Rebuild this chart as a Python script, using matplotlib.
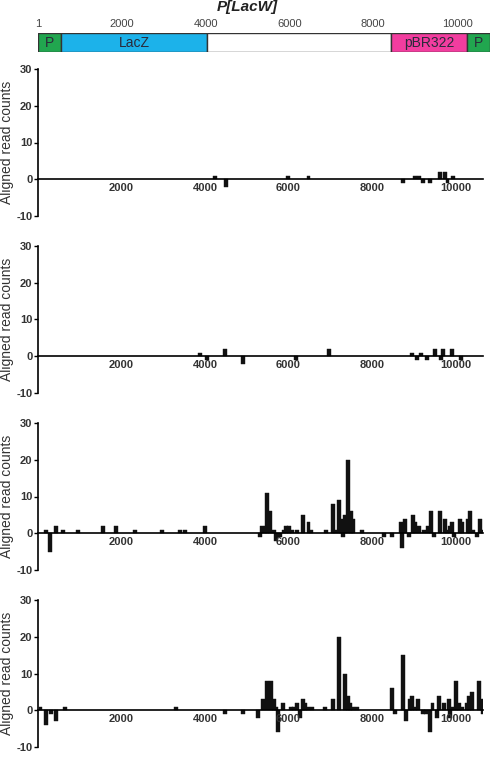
import matplotlib
matplotlib.use("Agg")
import matplotlib.pyplot as plt
from matplotlib.patches import Rectangle

plt.rcParams['font.family'] = ['Liberation Sans', 'DejaVu Sans']

# ---- data ----
map_title = "P[LacW]"
map_ticks = [1, 2000, 4000, 6000, 8000, 10000]
seg_names = ["P", "LacZ", "", "pBR322", "P"]
seg_starts = [1, 550, 4030, 8430, 10240]
seg_ends = [550, 4030, 8430, 10240, 10787]
seg_colors = ["#21a64f", "#1cb2ea", "#ffffff", "#f23d9f", "#21a64f"]

x_ticks = [2000, 4000, 6000, 8000, 10000]
y_ticks = [-10, 0, 10, 20, 30]

pos1 = [4230, 4500, 6000, 6480, 8740, 9040, 9120, 9220, 9400, 9620, 9740, 9810, 9950]
val1 = [1, -2, 1, 1, -1, 1, 1, -1, -1, 2, 2, -1, 1]

pos2 = [3880, 4050, 4490, 4900, 6190, 6980, 8950, 9080, 9170, 9330, 9500, 9660, 9700, 9920, 10130]
val2 = [1, -1, 2, -2, -1, 2, 1, -1, 1, -1, 2, -1, 2, 2, -1]

pos3 = [200, 280, 420, 600, 950, 1560, 1880, 2330, 2960, 3400, 3530, 3990,
        5320, 5370, 5450, 5490, 5550, 5650, 5700, 5800, 5890, 5950, 6010, 6090, 6200,
        6350, 6480, 6540, 6890, 7060, 7120, 7220, 7260, 7300, 7350, 7430, 7490, 7550,
        7750, 8280, 8480, 8700, 8730, 8780, 8890, 8975, 9040, 9120, 9240, 9340, 9420,
        9480, 9640, 9740, 9800, 9880, 9925, 9970, 10100, 10165, 10300, 10345, 10420,
        10520, 10580, 10650]
val3 = [1, -5, 2, 1, 1, 2, 2, 1, 1, 1, 1, 2,
        -1, 2, 2, 11, 6, 1, -2, -1, 1, 2, 2, 1, 1,
        5, 3, 1, 1, 8, 1, 9, 4, -1, 5, 20, 6, 4,
        1, -1, -1, 3, -4, 4, -1, 5, 3, 2, 1, 2, 6,
        -1, 6, 4, 1, 2, 3, -1, 4, 3, 4, 6, 1,
        -1, 4, 1]

pos4 = [60, 200, 300, 440, 640, 3315, 4490, 4900, 5260, 5380, 5490, 5580, 5650,
        5710, 5750, 5870, 6060, 6125, 6200, 6280, 6350, 6405, 6460, 6565, 6870,
        7065, 7210, 7345, 7420, 7480, 7550, 7640, 8480, 8545, 8745, 8815, 8920,
        8970, 9020, 9100, 9220, 9300, 9400, 9450, 9555, 9615, 9735, 9835, 9880,
        9925, 10015, 10075, 10155, 10275, 10330, 10395, 10570, 10630, 10665]
val4 = [1, -4, -1, -3, 1, 1, -1, -1, -2, 3, 8, 8, 3,
        1, -6, 2, 1, 1, 2, -2, 3, 2, 1, 1, 1,
        3, 20, 10, 4, 2, 1, 1, 6, -1, 15, -3, 3,
        4, 1, 3, -1, -1, -6, 2, -2, 4, 2, 3, -2,
        1, 8, 2, 1, 2, 4, 5, 8, 3, -1]

panels = [(pos1, val1), (pos2, val2), (pos3, val3), (pos4, val4)]

# ---- figure ----
W, H = 494, 757
fig = plt.figure(figsize=(W / 100, H / 100), dpi=100)

def px_axes(x0, y0, x1, y1):
    return fig.add_axes([x0 / W, 1 - y1 / H, (x1 - x0) / W, (y1 - y0) / H])

# gene map
axm = px_axes(38, 33, 490, 52)
axm.set_xlim(seg_starts[0], seg_ends[-1])
axm.set_ylim(0, 1)
for s, e, c, n in zip(seg_starts, seg_ends, seg_colors, seg_names):
    axm.add_patch(Rectangle((s, 0), e - s, 1, facecolor=c, edgecolor="#333333", lw=1.0))
    if n:
        axm.text((s + e) / 2, 0.45, n, ha="center", va="center", fontsize=10, color="#2a2a3a")
for sp in axm.spines.values():
    sp.set_visible(False)
axm.set_yticks([])
axm.xaxis.set_ticks_position("top")
axm.set_xticks(map_ticks)
axm.set_xticklabels([str(t) for t in map_ticks], fontsize=8, color="#444444")
axm.tick_params(axis="x", length=0, pad=3)
axm.text(0.5, (H - 7) / H, map_title, transform=fig.transFigure, ha="center", va="center",
         fontsize=11, fontweight="bold", fontstyle="italic", color="#222222")

# panels
tops = [69, 246, 423, 600]
for (pos, val), top in zip(panels, tops):
    ax = px_axes(38, top, 483, top + 147)
    ax.set_xlim(0, 10660)
    ax.set_ylim(-10, 30)
    ax.bar(pos, val, width=95, color="#111111", edgecolor="#111111", linewidth=0.3)
    ax.spines["top"].set_visible(False)
    ax.spines["right"].set_visible(False)
    ax.spines["bottom"].set_position(("data", 0))
    ax.spines["left"].set_linewidth(1.2)
    ax.spines["bottom"].set_linewidth(1.2)
    ax.set_yticks(y_ticks)
    ax.set_yticklabels([str(t) for t in y_ticks], fontsize=8, fontweight="bold", color="#333333")
    ax.tick_params(axis="y", length=3, width=1.0, pad=1)
    ax.set_xticks(x_ticks)
    ax.set_xticklabels([str(t) for t in x_ticks], fontsize=8, fontweight="bold", color="#333333")
    ax.tick_params(axis="x", length=0, pad=3)
    ax.set_ylabel("Aligned read counts", fontsize=10, color="#333333", labelpad=2)

fig.savefig("out.png", dpi=100)
